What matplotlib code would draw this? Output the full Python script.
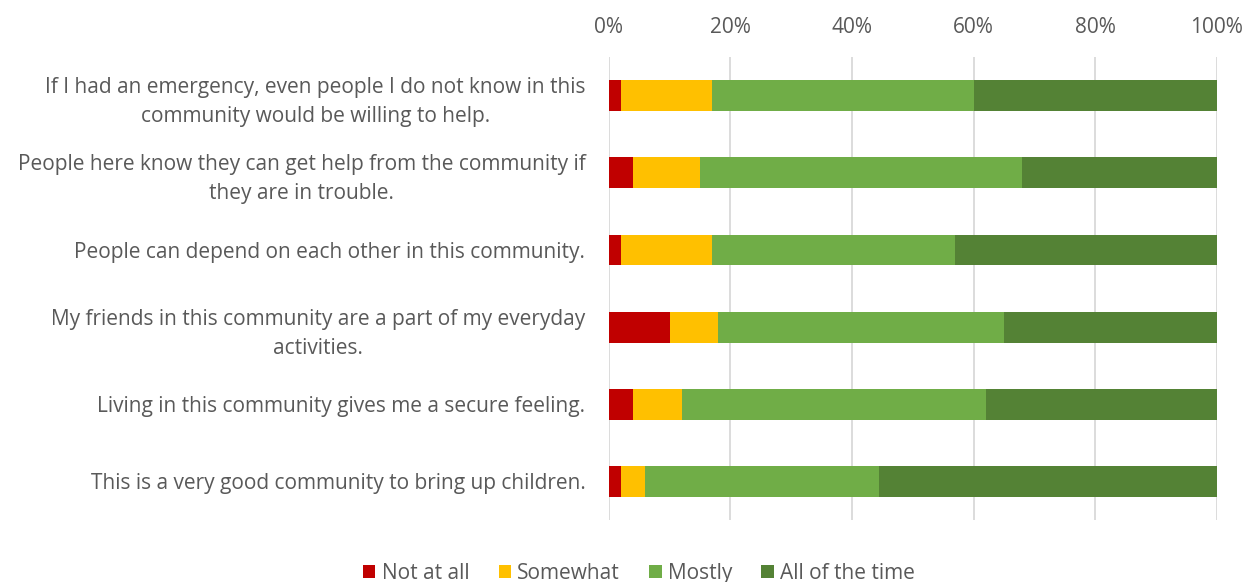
import numpy as np
import matplotlib.pyplot as plt
from matplotlib.ticker import PercentFormatter

plt.rcParams['font.family'] = ['Open Sans', 'DejaVu Sans']

statements = [
    "If I had an emergency, even people I do not know in this\ncommunity would be willing to help.",
    "People here know they can get help from the community if\nthey are in trouble.",
    "People can depend on each other in this community.",
    "My friends in this community are a part of my everyday\nactivities.",
    "Living in this community gives me a secure feeling.",
    "This is a very good community to bring up children.",
]
not_at_all = [2, 4, 2, 10, 4, 2]
somewhat = [15, 11, 15, 8, 8, 4]
mostly = [43, 53, 40, 47, 50, 38.5]
all_time = [40, 32, 43, 35, 38, 55.5]

series = ["Not at all", "Somewhat", "Mostly", "All of the time"]
colors = ["#C00000", "#FFC000", "#70AD47", "#548235"]
text_col = "#595959"
fs = 15

fig = plt.figure(figsize=(12.53, 5.82), dpi=100)
ax = fig.add_axes([0.486, 0.1065, 0.485, 0.7955])

y = np.arange(len(statements))
left = np.zeros(len(statements))
for name, vals, c in zip(series, [not_at_all, somewhat, mostly, all_time], colors):
    vals = np.array(vals, dtype=float)
    ax.barh(y, vals, left=left, height=0.4, color=c, label=name, zorder=3)
    left += vals

ax.set_xlim(0, 100)
ax.set_ylim(len(statements) - 0.5, -0.5)
ax.set_xticks(np.arange(0, 101, 20))
ax.xaxis.set_major_formatter(PercentFormatter(decimals=0))
ax.xaxis.tick_top()
ax.set_yticks(y)
ax.set_yticklabels(statements, multialignment="center", linespacing=1.5)
ax.tick_params(axis="both", length=0, labelsize=fs, colors=text_col)
ax.tick_params(axis="y", pad=17)
ax.tick_params(axis="x", pad=14)
ax.grid(axis="x", color="#D9D9D9", linewidth=1.3, zorder=0)
for s in ax.spines.values():
    s.set_visible(False)

fig.legend(loc="lower center", bbox_to_anchor=(0.51, -0.035), ncol=4, frameon=False,
           fontsize=fs, handlelength=0.6, handleheight=0.6, handletextpad=0.3,
           columnspacing=1.4, labelcolor=text_col)

fig.savefig("out.png", dpi=100)
